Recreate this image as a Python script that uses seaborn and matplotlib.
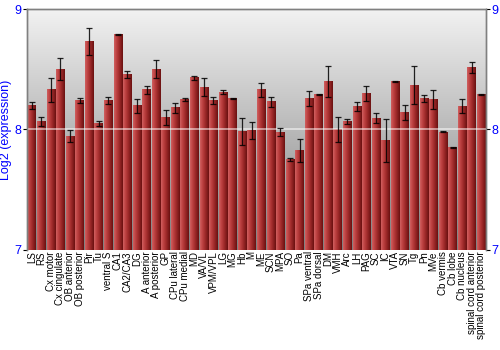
import numpy as np
import pandas as pd
import matplotlib
matplotlib.use("Agg")
import matplotlib.pyplot as plt
import seaborn as sns
from matplotlib.colors import LinearSegmentedColormap

categories = ["LS", "RS", "Cx motor", "Cx cingulate", "OB anterior", "OB posterior", "Pir", "Tu",
              "ventral S", "CA1", "CA2/CA3", "DG", "A anterior", "A posterior", "GP", "CPu lateral",
              "CPu medial", "MD", "VA/VL", "VPM/VPL", "LG", "MG", "Hb", "M", "ME", "SCN", "MPA", "SO",
              "Pa", "SPa ventral", "SPa dorsal", "DM", "VMH", "Arc", "LH", "PAG", "SC", "IC", "VTA",
              "SN", "Tg", "Pn", "MVe", "Cb vermis", "Cb lobe", "Cb nucleus", "spinal cord anterior",
              "spinal cord posterior"]
values = [8.197, 8.065, 8.33, 8.50, 7.946, 8.24, 8.73, 8.048,
          8.24, 8.79, 8.46, 8.197, 8.33, 8.50, 8.10, 8.18,
          8.25, 8.43, 8.35, 8.24, 8.31, 8.26, 7.985, 7.99,
          8.33, 8.23, 7.98, 7.75, 7.825, 8.255, 8.29, 8.40,
          8.0, 8.065, 8.19, 8.30, 8.095, 7.91, 8.40, 8.14,
          8.37, 8.26, 8.25, 7.98, 7.85, 8.195, 8.515, 8.29]
errors = [0.03, 0.04, 0.10, 0.09, 0.05, 0.02, 0.11, 0.02,
          0.03, 0.005, 0.03, 0.06, 0.035, 0.075, 0.065, 0.04,
          0.01, 0.017, 0.075, 0.03, 0.015, 0.005, 0.11, 0.07,
          0.06, 0.04, 0.035, 0.01, 0.095, 0.063, 0.005, 0.13,
          0.105, 0.02, 0.035, 0.06, 0.04, 0.18, 0.005, 0.065,
          0.16, 0.03, 0.08, 0.004, 0.004, 0.06, 0.045, 0.005]
y_ticks = [7, 8, 9]

df = pd.DataFrame({"region": categories, "value": values})

sns.set_theme(style="white")
plt.rcParams['font.family'] = ['Liberation Sans', 'DejaVu Sans']

fig = plt.figure(figsize=(5, 3.5), dpi=100)
ax = fig.add_axes([0.054, 0.286, 0.918, 0.688])

sns.barplot(data=df, x="region", y="value", ax=ax, color="#a03030", width=0.9,
            errorbar=None, zorder=2)
ymin, ymax = 7, 9
ax.set_ylim(ymin, ymax)
n = len(categories)
ax.set_xlim(-0.5, n - 0.5)

# background gradient
bg = LinearSegmentedColormap.from_list("bg", ["#808080", "#f2f2f2"])
grad = np.linspace(0, 1, 256).reshape(-1, 1)
ax.imshow(grad, extent=(-0.5, n - 0.5, ymin, ymax), origin="lower", aspect="auto",
          cmap=bg, zorder=0)

# gradient on bars
barcm = LinearSegmentedColormap.from_list("bar", ["#d06060", "#c04444", "#a83030", "#8a2020", "#6a1010"])
hgrad = np.linspace(0, 1, 64).reshape(1, -1)
for p in list(ax.patches):
    x0 = p.get_x()
    w = p.get_width()
    h = p.get_height()
    p.set_facecolor("none")
    p.set_edgecolor("none")
    ax.imshow(hgrad, extent=(x0, x0 + w, ymin, h), origin="lower", aspect="auto",
              cmap=barcm, zorder=2)

ax.set_xlim(-0.5, n - 0.5)
ax.set_ylim(ymin, ymax)

ax.axhline(8, color="white", lw=1.2, alpha=0.6, zorder=3)

ax.errorbar(np.arange(n), values, yerr=errors, fmt="none", ecolor="black", elinewidth=0.9,
            capsize=2.2, capthick=0.9, alpha=0.85, zorder=4)

ax.set_yticks(y_ticks)
ax.set_yticklabels([str(t) for t in y_ticks], color="blue", fontsize=9)
ax.set_ylabel("Log2 (expression)", color="blue", fontsize=9, labelpad=2)
ax.set_xlabel("")
ax.set_xticks(range(n))
ax.set_xticklabels(categories, rotation=90, fontsize=7, color="black")
ax.tick_params(axis="x", length=0, pad=1)
ax.tick_params(axis="y", length=3, width=0.8, color="black", pad=1, direction="out", left=True)

ax2 = ax.twinx()
ax2.set_ylim(ymin, ymax)
ax2.set_yticks(y_ticks)
ax2.set_yticklabels([str(t) for t in y_ticks], color="blue", fontsize=9)
ax2.tick_params(axis="y", length=3, width=0.8, color="black", pad=1, direction="out", right=True)

for a in (ax, ax2):
    for s in ["left", "right", "top"]:
        a.spines[s].set_color("#808080")
        a.spines[s].set_linewidth(1.0)
    a.spines["bottom"].set_visible(False)

fig.savefig("out.png", dpi=100)
